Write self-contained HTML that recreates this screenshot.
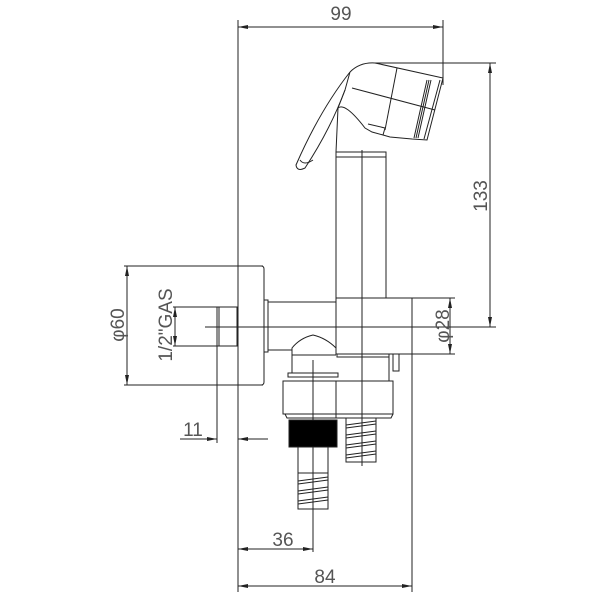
<!DOCTYPE html>
<html><head><style>body{margin:0;background:#fff}svg{display:block}</style></head><body>
<svg width="600" height="600" viewBox="0 0 600 600" xmlns="http://www.w3.org/2000/svg" font-family="Liberation Sans, sans-serif">
<defs>
<marker id="a" viewBox="0 0 10 4" refX="10" refY="2" markerWidth="10" markerHeight="4" orient="auto-start-reverse" markerUnits="userSpaceOnUse"><path d="M0,0L10,2L0,4z" fill="#222"/></marker>
</defs>
<g stroke="#222" stroke-width="1" fill="none">
<line x1="238" y1="20" x2="238" y2="592"/>
<line x1="443" y1="20" x2="443" y2="85"/>
<line x1="375" y1="63" x2="496" y2="63"/>
<line x1="205" y1="327" x2="496" y2="327"/>
<line x1="362" y1="150" x2="362" y2="466"/>
<line x1="313" y1="360" x2="313" y2="552"/>
<line x1="412" y1="298" x2="412" y2="592"/>
<line x1="412" y1="298" x2="455" y2="298"/>
<line x1="412" y1="354" x2="455" y2="354"/>
<line x1="124" y1="266" x2="263" y2="266"/>
<line x1="124" y1="385" x2="263" y2="385"/>
<line x1="173" y1="307" x2="218" y2="307"/>
<line x1="173" y1="346" x2="218" y2="346"/>
<line x1="217" y1="307" x2="217" y2="443"/>
<line x1="238" y1="27" x2="443" y2="27" marker-start="url(#a)" marker-end="url(#a)"/>
<line x1="490" y1="63" x2="490" y2="327" marker-start="url(#a)" marker-end="url(#a)"/>
<line x1="450" y1="298" x2="450" y2="354" marker-start="url(#a)" marker-end="url(#a)"/>
<line x1="127" y1="266" x2="127" y2="385" marker-start="url(#a)" marker-end="url(#a)"/>
<line x1="175" y1="307" x2="175" y2="346" marker-start="url(#a)" marker-end="url(#a)"/>
<line x1="180" y1="439" x2="217" y2="439" marker-end="url(#a)"/>
<line x1="268" y1="439" x2="238" y2="439" marker-end="url(#a)"/>
<line x1="238" y1="549" x2="313" y2="549" marker-start="url(#a)" marker-end="url(#a)"/>
<line x1="238" y1="586" x2="412" y2="586" marker-start="url(#a)" marker-end="url(#a)"/>
<path d="M238,266H261Q264,266 264,269V382Q264,385 261,385H238"/>
<rect x="217" y="307" width="20" height="39"/>
<line x1="219" y1="307" x2="219" y2="346"/>
<rect x="264" y="300" width="4" height="52"/>
<line x1="268" y1="302" x2="336" y2="302"/>
<line x1="268" y1="350" x2="292" y2="350"/>
<rect x="336" y="298" width="76" height="56"/>
<line x1="386" y1="298" x2="386" y2="294"/>
<path d="M336,298V152H386V298"/>
<line x1="336" y1="157" x2="386" y2="157"/>
<path d="M292,355V348Q300,338 313,335Q326,338 336,348"/>
<path d="M292,355H336M292,355V373H336"/>
<rect x="288" y="373" width="50" height="4"/>
<rect x="337" y="354" width="52" height="3"/>
<path d="M389,357V381"/>
<rect x="393" y="354" width="6" height="17"/>
<path d="M283,381H393V414H283Z"/>
<line x1="336" y1="381" x2="336" y2="418"/>
<path d="M285,414L287,418H391L393,414"/>
<rect x="289" y="420" width="48" height="27" fill="#000"/>
<rect x="298" y="447" width="30" height="26"/>
<rect x="298" y="473" width="30" height="36"/>
<path d="M298,481L328,477M298,484L328,480M298,491L328,487M298,494L328,490M298,501L328,497M298,504L328,500"/>
<rect x="346" y="418" width="30" height="44"/>
<path d="M346,425L376,421M346,428L376,424M346,435L376,431M346,438L376,434M346,445L376,441M346,448L376,444M346,455L376,451M346,458L376,454"/>
<path d="M350,72Q360,62 375,63L443,78L427,140L412,139L390,137L383,135L372,132L365,128Q345,102 338,108L336,152"/>
<path d="M350,72L345,90L338,108"/>
<path d="M350,72Q320,110 296,165Q297,172 305,168Q330,130 345,90"/>
<path d="M300,160Q304,166 313,160"/>
<path d="M352,88L435,110"/>
<path d="M397,68L385,130"/>
<path d="M427,80L414,138M429,80L416,138M431,80L418,138"/>
<path d="M440,80L424,139"/>
<path d="M383,135L385,128L368,124"/>
</g>
<g fill="#555" font-size="19">
<text x="341" y="20" text-anchor="middle">99</text>
<text x="325" y="583" text-anchor="middle">84</text>
<text x="283" y="546" text-anchor="middle">36</text>
<text x="193" y="436" text-anchor="middle">11</text>
<text transform="translate(487,196) rotate(-90)" text-anchor="middle">133</text>
<text transform="translate(449,326) rotate(-90)" text-anchor="middle">φ28</text>
<text transform="translate(124,325) rotate(-90)" text-anchor="middle">φ60</text>
<text transform="translate(172,325) rotate(-90)" text-anchor="middle">1/2"GAS</text>
</g>
</svg>
</body></html>
